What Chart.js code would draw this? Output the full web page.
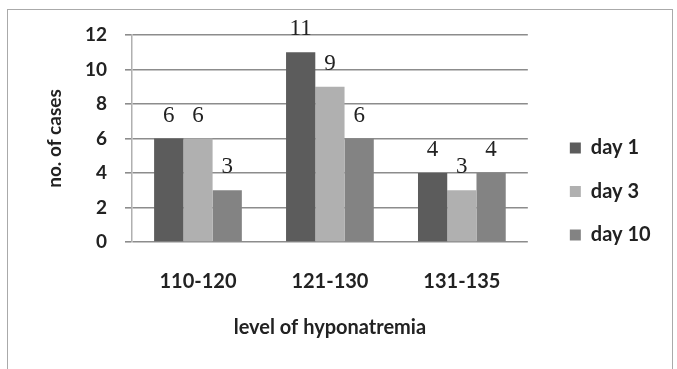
<!DOCTYPE html>
<html>
<head>
<meta charset="utf-8">
<script src="https://cdn.jsdelivr.net/npm/chart.js@4/dist/chart.umd.min.js"></script>
<style>
    html, body { margin: 0; padding: 0; background: #fff; }
    #wrap { position: relative; width: 677px; height: 369px; overflow: hidden; }
    #frame { position: absolute; left: 7px; top: 9px; width: 664px; height: 400px; border: 1px solid #aaa; }
    canvas { position: absolute; left: 0; top: 0; }
</style>
</head>
<body>
<div id="wrap">
    <div id="frame"></div>
    <canvas id="myChart" width="677" height="369"></canvas>
</div>
<script>
const categories = ['110-120', '121-130', '131-135'];
const day1 = [6, 11, 4];
const day3 = [6, 9, 3];
const day10 = [3, 6, 4];
const yTicks = [0, 2, 4, 6, 8, 10, 12];

// value labels above each bar
const barLabels = {
    id: 'barLabels',
    afterDatasetsDraw(chart) {
        const ctx = chart.ctx;
        ctx.save();
        ctx.font = '23px "Liberation Serif"';
        ctx.fillStyle = '#222';
        ctx.textAlign = 'center';
        ctx.textBaseline = 'middle';
        chart.data.datasets.forEach((ds, i) => {
            chart.getDatasetMeta(i).data.forEach((bar, j) => {
                ctx.fillText(ds.data[j], bar.x, bar.y - 23);
            });
        });
        ctx.restore();
    }
};

const ctx = document.getElementById('myChart').getContext('2d');
new Chart(ctx, {
    type: 'bar',
    data: {
        labels: categories,
        datasets: [
            { label: 'day 1', data: day1, backgroundColor: '#5c5c5c' },
            { label: 'day 3', data: day3, backgroundColor: '#b0b0b0' },
            { label: 'day 10', data: day10, backgroundColor: '#838383' }
        ]
    },
    options: {
        responsive: false,
        animation: false,
        devicePixelRatio: 1,
        layout: { padding: { left: 8, top: 35, bottom: 21, right: 23 } },
        datasets: { bar: { barPercentage: 1, categoryPercentage: 0.665 } },
        plugins: {
            tooltip: { enabled: false },
            legend: {
                position: 'right',
                labels: {
                    boxWidth: 11,
                    boxHeight: 11,
                    padding: 23.5,
                    color: '#222',
                    font: { family: 'Lato', size: 20, weight: 'bold' }
                }
            }
        },
        scales: {
            x: {
                afterFit: s => { s.height = 106; },
                grid: { display: false, drawTicks: false },
                border: { display: false },
                ticks: { color: '#222', padding: 28, font: { family: 'Lato', size: 20, weight: 'bold' } },
                title: {
                    display: true,
                    text: 'level of hyponatremia',
                    color: '#222',
                    padding: { top: 22, bottom: 8 },
                    font: { family: 'Lato', size: 20, weight: 'bold' }
                }
            },
            y: {
                min: 0,
                max: 12,
                afterBuildTicks: s => { s.ticks = yTicks.map(v => ({ value: v })); },
                afterFit: s => { s.width = 124; },
                grid: { color: '#8c8c8c', lineWidth: 1.6, tickLength: 7 },
                border: { display: true, color: '#b0b0b0', width: 1.5 },
                ticks: { color: '#222', padding: 18, font: { family: 'Lato', size: 19, weight: 'bold' } },
                title: {
                    display: true,
                    text: 'no. of cases',
                    color: '#222',
                    padding: { top: 35, bottom: 10 },
                    font: { family: 'Lato', size: 19, weight: 'bold' }
                }
            },
            gap: {
                position: 'right',
                display: true,
                grid: { display: false, drawTicks: false },
                border: { display: false },
                ticks: { display: false },
                afterFit: s => { s.width = 18.5; }
            }
        }
    },
    plugins: [barLabels]
});
</script>
</body>
</html>
